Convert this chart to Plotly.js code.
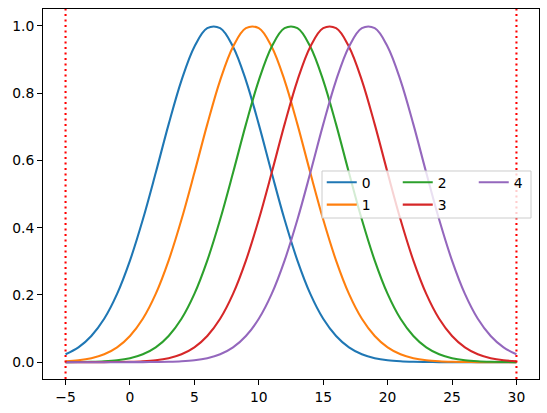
<!DOCTYPE html>
<html>
<head>
<meta charset="utf-8">
<script src="https://cdn.plot.ly/plotly-3.0.1.min.js"></script>
<style>
  body { margin: 0; padding: 0; background: #fff; }
  #chart { width: 547px; height: 413px; }
</style>
</head>
<body>
<div id="chart"></div>
<script>
// sample positions along x
var xValues = [-5, -4, -3, -2, -1, 0, 1, 2, 3, 4, 5, 6, 7, 8, 9, 10, 11, 12, 13, 14, 15,
    16, 17, 18, 19, 20, 21, 22, 23, 24, 25, 26, 27, 28, 29, 30];

var curve0 = [0.0235, 0.044, 0.078, 0.129, 0.203, 0.302, 0.424, 0.563, 0.707, 0.838, 0.938, 0.993,
    0.993, 0.938, 0.838, 0.707, 0.563, 0.424, 0.302, 0.203, 0.129, 0.078, 0.044, 0.0235,
    0.012, 0.0057, 0.0026, 0.0011, 0.0005, 0.0002, 0.0001, 0, 0, 0, 0, 0];
var curve1 = [0.0026, 0.0057, 0.012, 0.0235, 0.044, 0.078, 0.129, 0.203, 0.302, 0.424, 0.563, 0.707,
    0.838, 0.938, 0.993, 0.993, 0.938, 0.838, 0.707, 0.563, 0.424, 0.302, 0.203, 0.129,
    0.078, 0.044, 0.0235, 0.012, 0.0057, 0.0026, 0.0011, 0.0005, 0.0002, 0.0001, 0, 0];
var curve2 = [0.0002, 0.0005, 0.0011, 0.0026, 0.0057, 0.012, 0.0235, 0.044, 0.078, 0.129, 0.203, 0.302,
    0.424, 0.563, 0.707, 0.838, 0.938, 0.993, 0.993, 0.938, 0.838, 0.707, 0.563, 0.424,
    0.302, 0.203, 0.129, 0.078, 0.044, 0.0235, 0.012, 0.0057, 0.0026, 0.0011, 0.0005, 0.0002];
var curve3 = [0, 0, 0.0001, 0.0002, 0.0005, 0.0011, 0.0026, 0.0057, 0.012, 0.0235, 0.044, 0.078,
    0.129, 0.203, 0.302, 0.424, 0.563, 0.707, 0.838, 0.938, 0.993, 0.993, 0.938, 0.838,
    0.707, 0.563, 0.424, 0.302, 0.203, 0.129, 0.078, 0.044, 0.0235, 0.012, 0.0057, 0.0026];
var curve4 = [0, 0, 0, 0, 0, 0.0001, 0.0002, 0.0005, 0.0011, 0.0026, 0.0057, 0.012,
    0.0235, 0.044, 0.078, 0.129, 0.203, 0.302, 0.424, 0.563, 0.707, 0.838, 0.938, 0.993,
    0.993, 0.938, 0.838, 0.707, 0.563, 0.424, 0.302, 0.203, 0.129, 0.078, 0.044, 0.0235];

var seriesNames = ['0', '1', '2', '3', '4'];
var markerLines = [-5, 30];

var xTicks = [-5, 0, 5, 10, 15, 20, 25, 30];
var yTicks = [0, 0.2, 0.4, 0.6, 0.8, 1.0];

var colors = ['#1f77b4', '#ff7f0e', '#2ca02c', '#d62728', '#9467bd'];
var allCurves = [curve0, curve1, curve2, curve3, curve4];
// matplotlib ncol=3 fills column by column: 0 2 4 on top, 1 3 below
var legendFor = ['legend', 'legend2', 'legend', 'legend2', 'legend'];

var font = {family: 'DejaVu Sans', size: 13.89, color: '#000'};

var data = [];
for (var i = 0; i < allCurves.length; i++) {
    data.push({
        x: xValues,
        y: allCurves[i],
        type: 'scatter',
        mode: 'lines',
        name: seriesNames[i],
        legend: legendFor[i],
        line: {color: colors[i], width: 2.08, shape: 'spline', smoothing: 1}
    });
}

var shapes = [];
for (var j = 0; j < markerLines.length; j++) {
    shapes.push({
        type: 'line', xref: 'x', yref: 'paper',
        x0: markerLines[j], x1: markerLines[j], y0: 0, y1: 1,
        line: {color: 'red', width: 2.08, dash: '2.1px,3.4px'},
        layer: 'above'
    });
}
// legend frame
shapes.push({
    type: 'rect', xref: 'paper', yref: 'paper',
    x0: 0.5625, x1: 0.9839, y0: 0.4351, y1: 0.5622,
    fillcolor: 'rgba(255,255,255,0.8)',
    line: {color: '#cccccc', width: 1},
    layer: 'above'
});

var axisCommon = {
    showgrid: false,
    zeroline: false,
    showline: true,
    mirror: true,
    linecolor: '#000',
    linewidth: 1.1,
    ticks: 'outside',
    ticklen: 4.9,
    tickwidth: 1.1,
    tickcolor: '#000',
    tickfont: font,
    automargin: false
};

var legendCommon = {
    orientation: 'h',
    bgcolor: 'rgba(0,0,0,0)',
    borderwidth: 0,
    font: font,
    xanchor: 'left',
    yanchor: 'middle',
    entrywidth: 31,
    entrywidthmode: 'pixels',
    traceorder: 'normal'
};

var layout = {
    width: 547,
    height: 413,
    margin: {l: 43, r: 8, t: 9, b: 34, autoexpand: false},
    paper_bgcolor: '#fff',
    plot_bgcolor: '#fff',
    font: font,
    showlegend: true,
    xaxis: Object.assign({}, axisCommon, {
        range: [-6.75, 31.75],
        tickmode: 'array',
        tickvals: xTicks
    }),
    yaxis: Object.assign({}, axisCommon, {
        range: [-0.05, 1.05],
        tickmode: 'array',
        tickvals: yTicks,
        tickformat: '.1f'
    }),
    legend: Object.assign({}, legendCommon, {x: 0.562, y: 0.5305}),
    legend2: Object.assign({}, legendCommon, {x: 0.562, y: 0.470}),
    shapes: shapes
};

Plotly.newPlot('chart', data, layout, {displayModeBar: false});
</script>
</body>
</html>
